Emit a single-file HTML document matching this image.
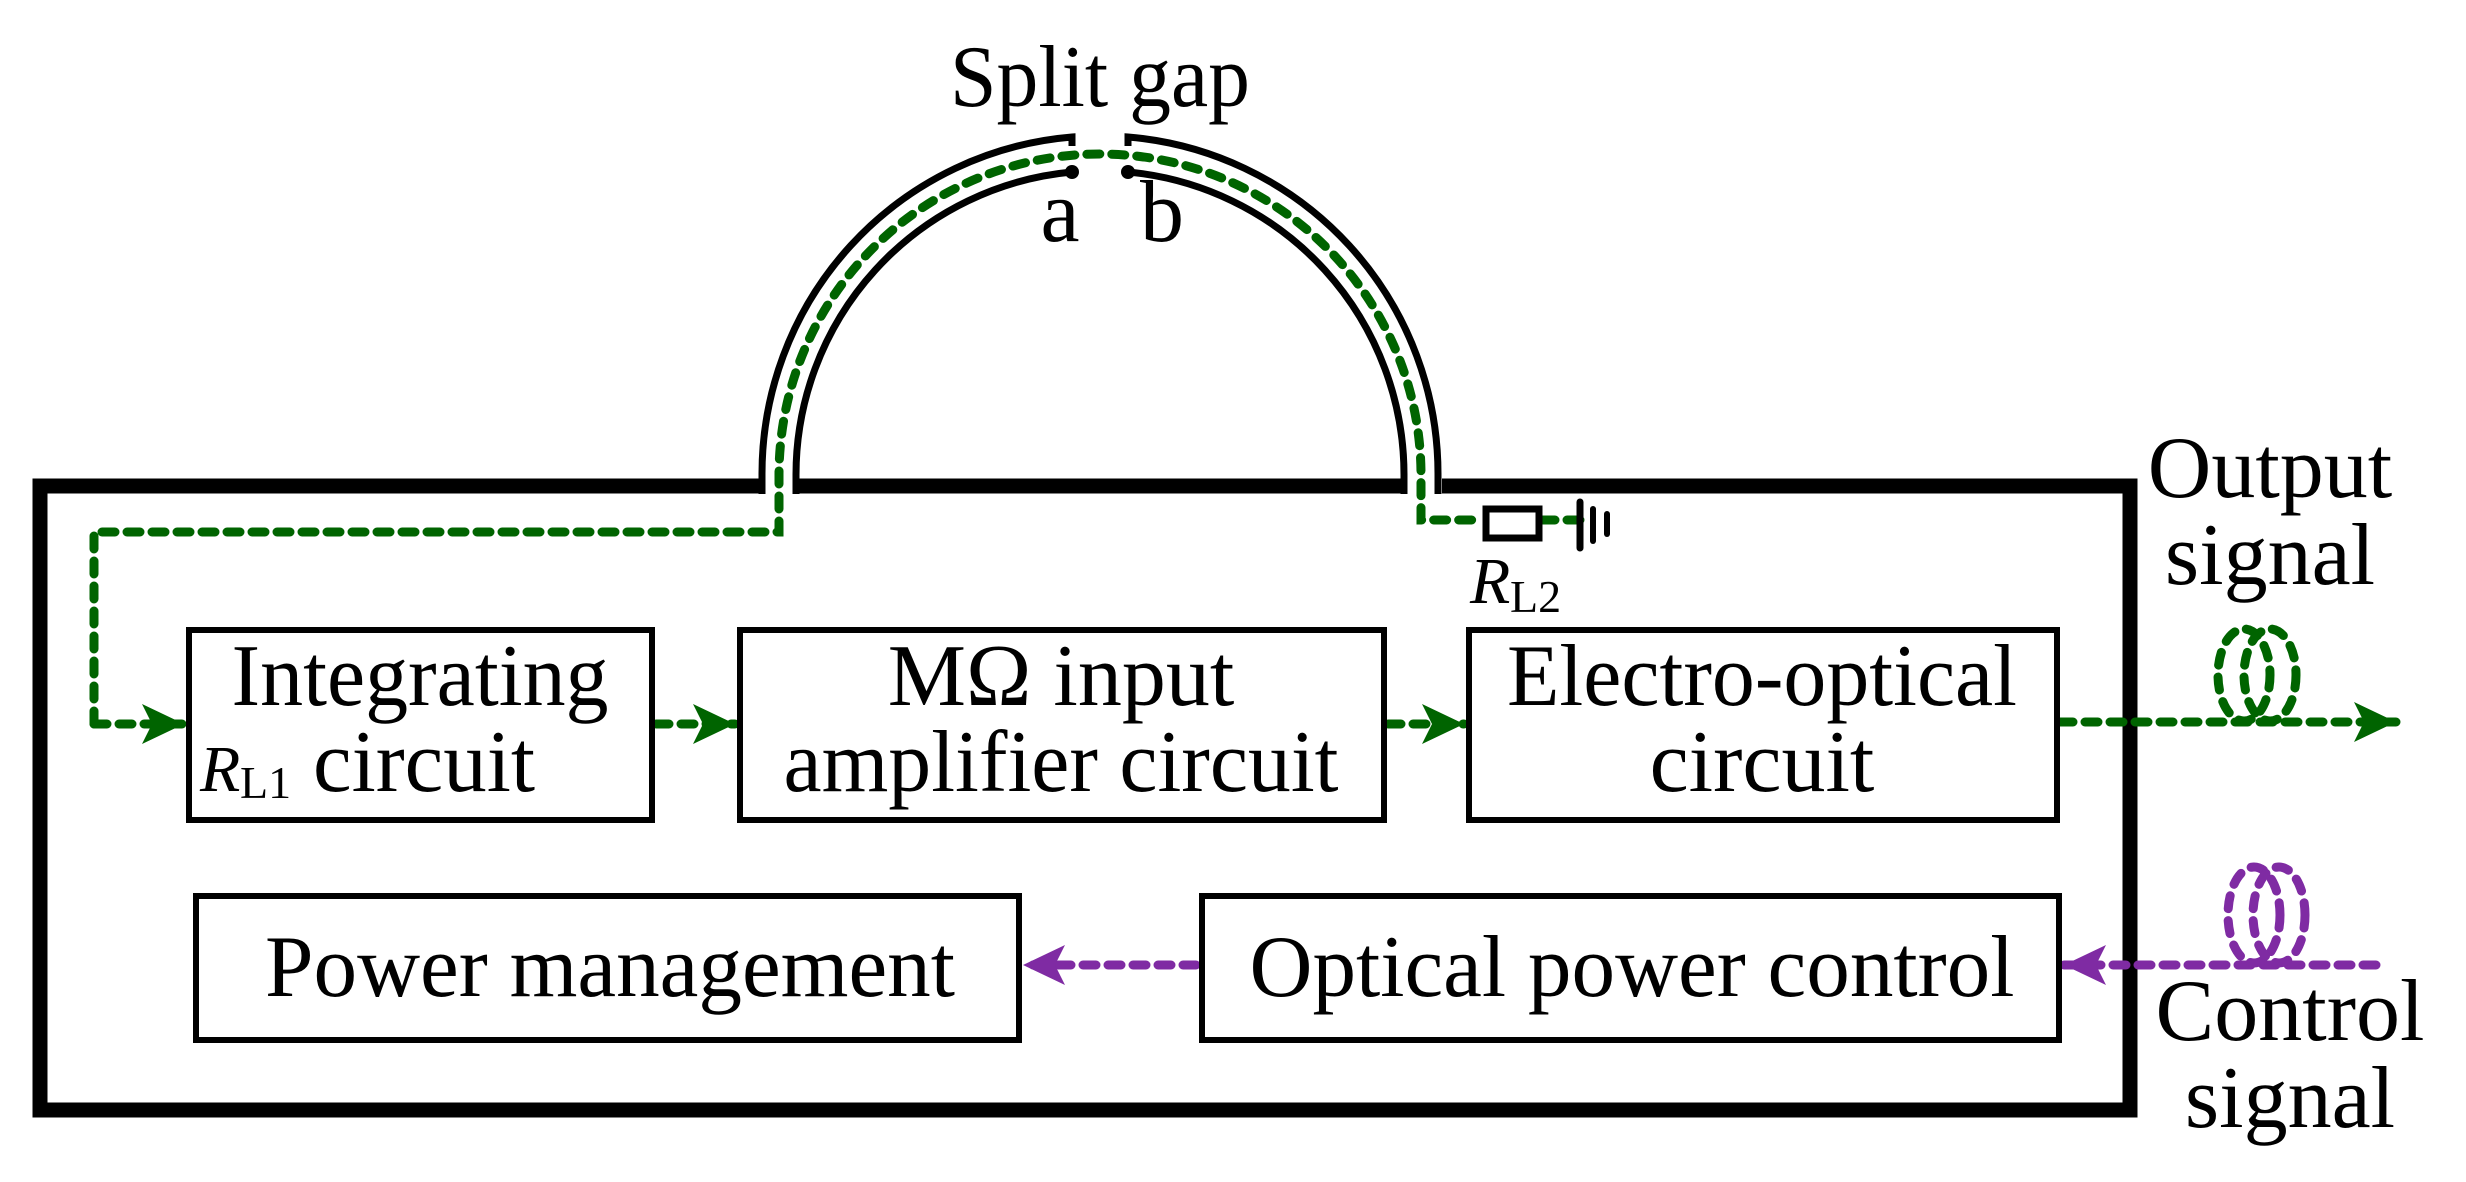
<!DOCTYPE html>
<html><head><meta charset="utf-8"><style>
html,body{margin:0;padding:0;background:#fff;}
svg{display:block;}
svg text{font-family:"Liberation Serif","Times New Roman","DejaVu Serif",serif;fill:#000;}
</style></head><body>
<svg width="2466" height="1182" viewBox="0 0 2466 1182" xmlns="http://www.w3.org/2000/svg" font-family="Liberation Serif, Times New Roman, serif">
<defs>
<marker id="ga" markerUnits="userSpaceOnUse" markerWidth="44" markerHeight="44" refX="42" refY="22" orient="auto"><path d="M0,2 L42,22 L0,42 L10,22 Z" fill="#006400"/></marker>
<marker id="pa" markerUnits="userSpaceOnUse" markerWidth="44" markerHeight="44" refX="42" refY="22" orient="auto"><path d="M0,2 L42,22 L0,42 L10,22 Z" fill="#7f2ba3"/></marker>
</defs>
<path d="M759,486 L40,486 L40,1110 L2130,1110 L2130,486 L1442,486 M1403,486 L796,486" fill="none" stroke="#000" stroke-width="15"/>
<g fill="none" stroke="#000" stroke-width="7">
<path d="M762,494 L762,475 A338,338 0 0 1 1072,137 L1072,146"/>
<path d="M1128,146 L1128,137 A338,338 0 0 1 1438,475 L1438,494"/>
<path d="M796,494 L796,475 A304,304 0 0 1 1072,172"/>
<path d="M1128,172 A304,304 0 0 1 1404,475 L1404,494"/>
</g>
<circle cx="1072" cy="172" r="7" fill="#000"/>
<circle cx="1128" cy="172" r="7" fill="#000"/>
<g fill="none" stroke="#006400" stroke-width="9" stroke-linecap="round" stroke-dasharray="13 12">
<path d="M94,724 L94,532 L779,532 L779,475 A321,321 0 0 1 1421,475 L1421,520 L1483,520"/>
<path d="M1542,520 L1580,520"/>
<path d="M94,724 L184,724" marker-end="url(#ga)"/>
<path d="M656,724 L735,724" marker-end="url(#ga)"/>
<path d="M1388,724 L1464,724" marker-end="url(#ga)"/>
<path d="M2060,722 L2396,722" marker-end="url(#ga)"/>
<ellipse cx="2244" cy="675" rx="26" ry="46"/>
<ellipse cx="2270" cy="675" rx="26" ry="46"/>
</g>
<g fill="none" stroke="#7f2ba3" stroke-width="9" stroke-linecap="round" stroke-dasharray="13 12">
<path d="M2376,965 L2064,965" marker-end="url(#pa)"/>
<path d="M1196,965 L1023,965" marker-end="url(#pa)"/>
<ellipse cx="2254" cy="915" rx="26" ry="48"/>
<ellipse cx="2279" cy="915" rx="26" ry="48"/>
</g>
<rect x="1486" y="509" width="53" height="29" fill="#fff" stroke="#000" stroke-width="7"/>
<g stroke="#000" stroke-linecap="round">
<line x1="1580" y1="502" x2="1580" y2="548" stroke-width="7"/>
<line x1="1593" y1="509" x2="1593" y2="541" stroke-width="6"/>
<line x1="1607" y1="514" x2="1607" y2="534" stroke-width="6"/>
</g>
<g fill="none" stroke="#000" stroke-width="6">
<rect x="189" y="630" width="463" height="190"/>
<rect x="740" y="630" width="644" height="190"/>
<rect x="1469" y="630" width="588" height="190"/>
<rect x="196" y="896" width="823" height="144"/>
<rect x="1202" y="896" width="857" height="144"/>
</g>
<g font-size="88">
<text x="1100" y="106" text-anchor="middle" textLength="300" lengthAdjust="spacingAndGlyphs">Split gap</text>
<text x="1060" y="241" text-anchor="middle">a</text>
<text x="1162" y="241" text-anchor="middle">b</text>
<text x="420" y="705" text-anchor="middle" textLength="377" lengthAdjust="spacingAndGlyphs">Integrating</text>
<text x="424" y="791" text-anchor="middle" textLength="222" lengthAdjust="spacingAndGlyphs">circuit</text>
<text x="1061" y="705" text-anchor="middle">MΩ input</text>
<text x="1061" y="791" text-anchor="middle" textLength="555" lengthAdjust="spacingAndGlyphs">amplifier circuit</text>
<text x="1762" y="705" text-anchor="middle" textLength="510" lengthAdjust="spacingAndGlyphs">Electro-optical</text>
<text x="1762" y="791" text-anchor="middle">circuit</text>
<text x="610" y="996" text-anchor="middle" textLength="690" lengthAdjust="spacingAndGlyphs">Power management</text>
<text x="1632" y="996" text-anchor="middle" textLength="765" lengthAdjust="spacingAndGlyphs">Optical power control</text>
<text x="2270" y="497" text-anchor="middle">Output</text>
<text x="2270" y="584" text-anchor="middle">signal</text>
<text x="2290" y="1040" text-anchor="middle">Control</text>
<text x="2290" y="1127" text-anchor="middle">signal</text>
</g>
<text x="200" y="791" font-size="66" font-style="italic">R</text>
<text x="240" y="798" font-size="46">L1</text>
<text x="1470" y="603" font-size="66" font-style="italic">R</text>
<text x="1510" y="612" font-size="46">L2</text>
</svg>
</body></html>
